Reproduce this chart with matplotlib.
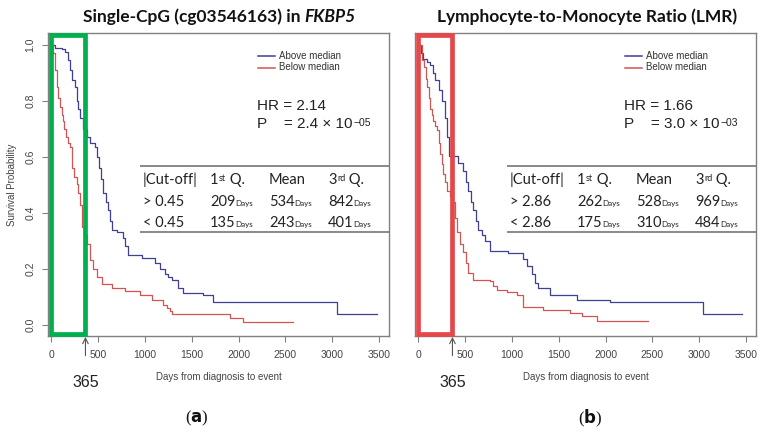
import matplotlib
matplotlib.use('Agg')
import matplotlib.pyplot as plt
from matplotlib.patches import Rectangle
import matplotlib.transforms as mtransforms

# ---- data ----
# (a) FKBP5 single CpG
a_above_t = [0, 38, 113, 145, 177, 200, 220, 252, 270, 284, 306, 340, 380, 410, 465, 490, 510, 530, 555,
             580, 605, 625, 645, 700, 765, 790, 820, 970, 1107, 1160, 1214, 1250, 1290, 1350, 1406, 1620,
             1726, 3050, 3478]
a_above_s = [1.0, 0.99, 0.985, 0.975, 0.945, 0.91, 0.875, 0.85, 0.80, 0.77, 0.74, 0.70, 0.67, 0.65, 0.635,
             0.60, 0.56, 0.52, 0.47, 0.44, 0.41, 0.37, 0.34, 0.33, 0.31, 0.28, 0.25, 0.24, 0.22, 0.20, 0.18,
             0.17, 0.16, 0.13, 0.115, 0.105, 0.08, 0.04, 0.04]
a_below_t = [0, 17, 40, 60, 75, 92, 110, 124, 140, 156, 180, 199, 220, 245, 273, 290, 305, 327, 350, 380,
             412, 450, 487, 540, 647, 786, 946, 1075, 1193, 1235, 1267, 1290, 1908, 2049, 2583]
a_below_s = [1.0, 0.97, 0.91, 0.85, 0.81, 0.78, 0.75, 0.73, 0.70, 0.67, 0.65, 0.635, 0.56, 0.53, 0.505,
             0.47, 0.43, 0.35, 0.32, 0.29, 0.23, 0.20, 0.17, 0.145, 0.13, 0.12, 0.105, 0.09, 0.07, 0.06,
             0.05, 0.04, 0.025, 0.01, 0.01]

# (b) LMR
b_above_t = [0, 30, 53, 90, 128, 155, 181, 220, 256, 285, 309, 330, 427, 480, 510, 534, 560, 587, 615,
             640, 680, 715, 768, 960, 1120, 1163, 1217, 1249, 1281, 1409, 1697, 2050, 3040, 3458]
b_above_s = [1.0, 0.97, 0.95, 0.94, 0.93, 0.90, 0.875, 0.84, 0.80, 0.74, 0.67, 0.605, 0.58, 0.55, 0.51,
             0.48, 0.44, 0.41, 0.37, 0.34, 0.32, 0.30, 0.265, 0.255, 0.235, 0.21, 0.18, 0.15, 0.13, 0.105,
             0.09, 0.08, 0.04, 0.04]
b_below_t = [0, 43, 64, 80, 96, 112, 128, 145, 160, 180, 203, 220, 235, 250, 267, 290, 309, 340, 363, 390,
             416, 450, 480, 510, 534, 587, 768, 800, 843, 950, 1056, 1120, 1334, 1622, 1750, 1910, 2455]
b_below_s = [1.0, 0.945, 0.92, 0.88, 0.85, 0.81, 0.77, 0.75, 0.73, 0.71, 0.695, 0.65, 0.61, 0.575, 0.54,
             0.51, 0.48, 0.46, 0.44, 0.38, 0.33, 0.29, 0.26, 0.22, 0.185, 0.16, 0.155, 0.14, 0.125, 0.118,
             0.106, 0.065, 0.053, 0.042, 0.03, 0.015, 0.015]

hr_vals = ["2.14", "1.66"]
p_vals = [("2.4", "\u221205"), ("3.0", "\u221203")]
cutoffs = ["0.45", "2.86"]
q1 = [("209", "135"), ("262", "175")]
means = [("534", "243"), ("528", "310")]
q3 = [("842", "401"), ("969", "484")]
box_colors = ["#00b04f", "#e5484a"]
panel_tags = ["a", "b"]

BLUE = "#3f3f96"
RED = "#d35454"
GRAY = "#808080"
TXT = "#222222"
SANS = "Liberation Sans"
CAL = "Lato"

fig = plt.figure(figsize=(7.66, 4.33), dpi=100)
W, H = 766.0, 433.0

# axes boxes in pixels: left, top, right, bottom
boxes = [(48, 33, 389, 336), (415, 33, 756, 336)]


def ax_xy(box, px, py):
    l, t, r, b = box
    return (px - l) / (r - l), (b - py) / (b - t)


def sup_text(ax, x, y, base, sup, tail, size, family):
    t1 = ax.text(x, y, base, transform=ax.transAxes, fontsize=size, family=family,
                 va='center', ha='left', color=TXT)
    t2 = ax.annotate(sup, xy=(1, 1), xycoords=t1, fontsize=size * 0.62, family=family,
                     va='top', ha='left', color=TXT, xytext=(0.4, -0.6), textcoords='offset points')
    if tail:
        ax.annotate(tail, xy=(1, 0), xycoords=(t2, t1), fontsize=size, family=family,
                    va='bottom', ha='left', color=TXT)
    return t1


def days_text(ax, x, y, num, size=10.5):
    t1 = ax.text(x, y, num, transform=ax.transAxes, fontsize=size, family=CAL,
                 va='center', ha='left', color=TXT)
    ax.annotate('Days', xy=(1, 0), xycoords=t1, fontsize=5.8, family=CAL,
                va='bottom', ha='left', color=TXT, xytext=(0, 1.2), textcoords='offset points')


curves = [((a_above_t, a_above_s), (a_below_t, a_below_s)),
          ((b_above_t, b_above_s), (b_below_t, b_below_s))]

axes = []
for i, box in enumerate(boxes):
    l, t, r, b = box
    ax = fig.add_axes([l / W, 1 - b / H, (r - l) / W, (b - t) / H])
    axes.append(ax)
    (at, as_), (bt, bs) = curves[i]
    ax.step(at, as_, where='post', color=BLUE, lw=0.9)
    ax.step(bt, bs, where='post', color=RED, lw=0.9)
    ax.set_xlim(-35, 3607)
    ax.set_ylim(-0.04, 1.043)
    for sp in ax.spines.values():
        sp.set_color(GRAY)
        sp.set_linewidth(1.0)
    ax.set_xticks([0, 500, 1000, 1500, 2000, 2500, 3000, 3500])
    ax.tick_params(axis='x', direction='out', length=4, color=GRAY, labelsize=7.5,
                   labelcolor='#444444', pad=6)
    for lab in ax.get_xticklabels():
        lab.set_family(SANS)
    if i == 0:
        ax.set_yticks([0.0, 0.2, 0.4, 0.6, 0.8, 1.0])
        ax.set_yticklabels(["0.0", "0.2", "0.4", "0.6", "0.8", "1.0"], rotation=90, va='center',
                           family=SANS)
        ax.tick_params(axis='y', direction='out', length=4, color=GRAY, labelsize=7.5,
                       labelcolor='#444444', pad=5)
        ax.set_ylabel("Survival Probability", fontsize=7, family=SANS, color='#444444', labelpad=6)
    else:
        ax.set_yticks([])

    # highlight box for the first year
    trans = mtransforms.blended_transform_factory(ax.transData, ax.transAxes)
    ax.add_patch(Rectangle((0, 0.006), 365, 0.988, transform=trans, fill=False,
                           edgecolor=box_colors[i], lw=3.4, clip_on=False, zorder=5))

    # legend
    for k, (lab, col) in enumerate([("Above median", BLUE), ("Below median", RED)]):
        x0, y0 = ax_xy(boxes[0], 258, 56 + k * 11.5)
        x1, _ = ax_xy(boxes[0], 275, 0)
        ax.plot([x0, x1], [y0, y0], transform=ax.transAxes, color=col, lw=1.1)
        tx, _ = ax_xy(boxes[0], 279, 0)
        ax.text(tx, y0, lab, transform=ax.transAxes, fontsize=7, family=SANS, color='#333333',
                va='center', ha='left')

    # HR and P
    hx, hy = ax_xy(boxes[0], 257, 106)
    ax.text(hx, hy, "HR = " + hr_vals[i], transform=ax.transAxes, fontsize=11, family=SANS,
            color=TXT, va='center', ha='left')
    _, py = ax_xy(boxes[0], 0, 124)
    pt = ax.text(hx, py, "P    = %s \u00d7 10" % p_vals[i][0], transform=ax.transAxes, fontsize=11,
                 family=SANS, color=TXT, va='center', ha='left')
    ax.annotate(p_vals[i][1], xy=(1, 1), xycoords=pt, fontsize=7.5, family=SANS, color=TXT,
                va='top', ha='left', xytext=(0.5, -0.5), textcoords='offset points')

    # little table
    rx0, ry_top = ax_xy(boxes[0], 140, 166)
    _, ry_bot = ax_xy(boxes[0], 0, 232)
    for yy in (ry_top, ry_bot):
        ax.plot([rx0, 1.0], [yy, yy], transform=ax.transAxes, color=GRAY, lw=1.3,
                solid_capstyle='butt')
    cx = [ax_xy(boxes[0], p, 0)[0] for p in (143, 210, 269, 328)]
    hy_ = ax_xy(boxes[0], 0, 180)[1]
    r1 = ax_xy(boxes[0], 0, 202)[1]
    r2 = ax_xy(boxes[0], 0, 223)[1]
    ax.text(cx[0], hy_, "|Cut-off|", transform=ax.transAxes, fontsize=10.5, family=CAL, color=TXT,
            va='center', ha='left')
    sup_text(ax, cx[1], hy_, "1", "st", " Q.", 10.5, CAL)
    ax.text(cx[2], hy_, "Mean", transform=ax.transAxes, fontsize=10.5, family=CAL, color=TXT,
            va='center', ha='left')
    sup_text(ax, cx[3], hy_, "3", "rd", " Q.", 10.5, CAL)
    ax.text(cx[0], r1, "> " + cutoffs[i], transform=ax.transAxes, fontsize=10.5, family=CAL,
            color=TXT, va='center', ha='left')
    ax.text(cx[0], r2, "< " + cutoffs[i], transform=ax.transAxes, fontsize=10.5, family=CAL,
            color=TXT, va='center', ha='left')
    for col, vals in zip(cx[1:], (q1[i], means[i], q3[i])):
        days_text(ax, col, r1, vals[0])
        days_text(ax, col, r2, vals[1])

    # x label
    ax.set_xlabel("Days from diagnosis to event", fontsize=7, family=SANS, color='#444444', labelpad=9)

    # 365 arrow and label
    ax.annotate("", xy=(365, -0.003), xycoords=(ax.transData, ax.transAxes),
                xytext=(365, -0.065), textcoords=(ax.transData, ax.transAxes),
                arrowprops=dict(arrowstyle='->', color='#555555', lw=0.8, shrinkA=0, shrinkB=0))
    ax.text(365, -0.152, "365", transform=trans, fontsize=11.5, family=SANS, color=TXT,
            ha='center', va='center')

# titles
t_main = fig.text(83 / W, 1 - 17 / H, "Single-CpG (cg03546163) in ", family=CAL, fontsize=12.5,
                  fontweight='bold', ha='left', va='center', color='#111111')
axes[0].annotate("FKBP5", xy=(1, 0), xycoords=t_main, family=CAL, fontsize=12.5,
                 fontweight='bold', style='italic', ha='left', va='bottom', color='#111111',
                 annotation_clip=False)
fig.text(587 / W, 1 - 17 / H, "Lymphocyte-to-Monocyte Ratio (LMR)", family=CAL, fontsize=12.5,
         fontweight='bold', ha='center', va='center', color='#111111')

# panel tags
for xc, tag in zip((197, 590), panel_tags):
    fig.text(xc / W, 1 - 418 / H, "(" + r"$\bf{" + tag + "}$" + ")", family='Liberation Serif',
             fontsize=12, ha='center', va='center', color='#111111')

fig.savefig("out.png", dpi=100)
